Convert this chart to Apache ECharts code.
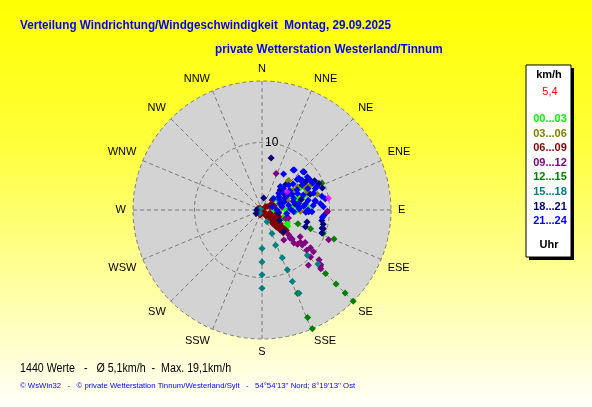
<!DOCTYPE html>
<html>
<head>
<meta charset="utf-8">
<script src="https://cdn.jsdelivr.net/npm/echarts@6/dist/echarts.min.js"></script>
<style>
  html, body { margin: 0; padding: 0; }
  #chart { width: 592px; height: 407px; }
</style>
</head>
<body>
<div id="chart"></div>
<script>
// Himmelsrichtungen (16 Sektoren, 22,5 Grad)
var directions = ['N', 'NNE', 'NE', 'ENE', 'E', 'ESE', 'SE', 'SSE',
                  'S', 'SSW', 'SW', 'WSW', 'W', 'WNW', 'NW', 'NNW'];
var radiusTicks = [10];
var maxSpeed = 19.1;

// Messwerte je Zeitraum: [Geschwindigkeit km/h, Richtung Grad]
var h00_03 = [[3.5, 90], [4.5, 122], [2.7, 56], [3.7, 48], [5.1, 55], [6.5, 60], [5.3, 77], [4.5, 84],
  [6.5, 72], [7.2, 68], [3.4, 107], [1.7, 90], [2.8, 75], [4.9, 93], [4.3, 59], [6.9, 88], [2.3, 48],
  [6.6, 59], [4.4, 122], [4.2, 118], [3.4, 111], [2.4, 45], [5.8, 70], [3.9, 66], [5.6, 84]];
var h03_06 = [[5.8, 42], [6.3, 57], [7.5, 60], [8.0, 63], [4.9, 64], [6.0, 75], [4.0, 70], [3.0, 82],
  [5.5, 58], [7.2, 70], [8.5, 74], [2.5, 95], [7.3, 66], [5.7, 92], [8.8, 63], [5.9, 42], [7.2, 63]];
var h06_09 = [[0.9, 56], [1.3, 112], [1.8, 124], [2.2, 129], [2.8, 128], [3.5, 129], [4.2, 130],
  [3.5, 135], [2.8, 135], [1.6, 141], [0.9, 146], [0.4, 135], [1.7, 59], [1.9, 72], [4.7, 130],
  [4.2, 135], [3.1, 135], [2.3, 139], [1.2, 143], [1.3, 68], [0.7, 45], [2.7, 112], [2.1, 110],
  [0.4, 315], [0.5, 270], [0.5, 130], [1.0, 135], [1.5, 130], [2.0, 135], [2.5, 130], [3.0, 133],
  [4.0, 133], [4.5, 132], [1.2, 120], [2.0, 125], [2.8, 125], [3.4, 127], [1.8, 145], [2.6, 142],
  [3.3, 140], [4.0, 138], [4.6, 137], [0.6, 240], [0.8, 200], [2.1, 45], [1.4, 59], [0.6, 290]];
var h09_12 = [[5.5, 144], [6.2, 134], [7.4, 130], [8.0, 127], [7.3, 134], [7.9, 131], [9.1, 128],
  [9.8, 129], [10.7, 140], [11.9, 133], [12.3, 135], [11.2, 131], [8.9, 132], [5.4, 133], [9.7, 91],
  [10.8, 114], [5.8, 21], [4.1, 107], [5.9, 135], [6.8, 136], [10.0, 134], [12.0, 134], [3.7, 110],
  [6.9, 125], [5.8, 134], [9.6, 92]];
var h12_15 = [[13.3, 135], [15.5, 135], [17.4, 135], [19.1, 135], [5.7, 111], [7.7, 111], [9.7, 111],
  [11.5, 112], [13.4, 157], [17.3, 157], [19.1, 157], [9.7, 66]];
var h15_18 = [[5.7, 180], [7.7, 180], [9.6, 180], [11.6, 180], [3.8, 157], [5.6, 159], [7.7, 157],
  [9.6, 157], [11.5, 157], [13.5, 156], [9.5, 135], [11.5, 134], [1.9, 157], [0.6, 215], [0.3, 300]];
var h18_21 = [[7.8, 10], [8.4, 48], [8.9, 61], [9.3, 65], [9.5, 70], [8.4, 58], [7.7, 57], [1.8, 8],
  [6.9, 92], [9.0, 100], [9.5, 107], [6.9, 111], [4.0, 42], [5.1, 43], [8.0, 81], [9.3, 107],
  [9.5, 111], [4.5, 135], [9.3, 103], [6.0, 75], [5.0, 80], [7.5, 72], [2.5, 100], [3.0, 120],
  [0.8, 270], [1.0, 240], [6.9, 105]];
var h21_24 = [[7.5, 38], [8.3, 47], [6.2, 31], [6.9, 49], [8.3, 57], [8.8, 67], [9.1, 77], [9.1, 87],
  [7.4, 92], [6.2, 85], [4.7, 93], [3.7, 98], [2.2, 90], [1.6, 72], [2.4, 45], [3.5, 45], [4.5, 45],
  [5.4, 47], [4.4, 38], [3.0, 60], [3.5, 70], [4.0, 80], [4.5, 60], [5.0, 70], [5.5, 80], [5.0, 55],
  [6.0, 60], [6.5, 70], [7.0, 78], [6.0, 50], [7.0, 58], [7.5, 65], [8.0, 72], [8.0, 80], [5.5, 88],
  [4.2, 88], [3.0, 80], [2.8, 70], [4.0, 52], [6.5, 82], [7.6, 85], [8.5, 62], [7.2, 52], [5.8, 65],
  [4.8, 75], [3.8, 62], [6.8, 90], [5.0, 62], [3.2, 52], [7.6, 39], [7.2, 49], [8.3, 54], [7.4, 53],
  [8.5, 68], [9.5, 80], [8.7, 84], [9.2, 95], [9.0, 97], [6.5, 93], [5.4, 85]];
var latest = [[10.0, 80], [4.6, 54]];

var periods = ['00...03', '03...06', '06...09', '09...12', '12...15', '15...18', '18...21', '21...24'];
var periodColors = ['#00FF00', '#808000', '#800000', '#800080', '#008000', '#008080', '#000080', '#0000FF'];
var periodData = [h00_03, h03_06, h06_09, h09_12, h12_15, h15_18, h18_21, h21_24];

var polarCenter = [262, 210];
var polarRadius = 129;

var chart = echarts.init(document.getElementById('chart'));

var series = periodData.map(function (d, i) {
  return {
    name: periods[i],
    type: 'scatter',
    coordinateSystem: 'polar',
    symbol: 'diamond',
    symbolSize: 7,
    itemStyle: { color: periodColors[i], opacity: 1 },
    data: d
  };
});
series.push({
  name: 'aktuell',
  type: 'scatter',
  coordinateSystem: 'polar',
  symbol: 'diamond',
  symbolSize: 7,
  itemStyle: { color: '#FF00FF' },
  data: latest
});

// grauer Kreis als Hintergrund der Windrose
var disc = [
  { type: 'circle', z: -10, silent: true, shape: { cx: polarCenter[0], cy: polarCenter[1], r: polarRadius },
    style: { fill: '#D3D3D3' } }
];

// Legende rechts (Kasten mit Schatten)
var legendItems = [
  { type: 'rect', shape: { x: 529, y: 68, width: 45, height: 192 }, style: { fill: '#000' } },
  { type: 'rect', shape: { x: 526, y: 65, width: 45, height: 192 }, style: { fill: '#fff', stroke: '#000', lineWidth: 1 } },
  { type: 'text', x: 549, y: 75, style: { text: 'km/h', fill: '#000', font: 'bold 11px Arial', align: 'center', verticalAlign: 'middle' } },
  { type: 'text', x: 550, y: 92, style: { text: '5,4', fill: '#FF0000', font: '11px Arial', align: 'center', verticalAlign: 'middle' } },
  { type: 'text', x: 549, y: 245, style: { text: 'Uhr', fill: '#000', font: 'bold 11px Arial', align: 'center', verticalAlign: 'middle' } }
];
periods.forEach(function (p, i) {
  legendItems.push({ type: 'text', x: 550, y: 119 + i * 14.6,
    style: { text: p, fill: periodColors[i], font: 'bold 11px Arial', align: 'center', verticalAlign: 'middle' } });
});

var texts = [
  { type: 'text', x: 20, y: 25, scaleX: 0.9, style: { text: 'Verteilung Windrichtung/Windgeschwindigkeit  Montag, 29.09.2025',
      fill: '#0000FF', font: 'bold 13px Arial', verticalAlign: 'middle' } },
  { type: 'text', x: 215, y: 49, scaleX: 0.9, style: { text: 'private Wetterstation Westerland/Tinnum',
      fill: '#0000FF', font: 'bold 13px Arial', verticalAlign: 'middle' } },
  { type: 'text', x: 20, y: 369, scaleX: 0.89, style: { text: '1440 Werte   -   \u00D8 5,1km/h  -  Max. 19,1km/h',
      fill: '#000', font: '12px Arial', verticalAlign: 'middle' } },
  { type: 'text', x: 20, y: 386, scaleX: 0.97, style: { text: '\u00A9 WsWin32   -   \u00A9 private Wetterstation Tinnum/Westerland/Sylt   -   54\u00B054\'13\'\' Nord; 8\u00B019\'13\'\' Ost',
      fill: '#0000FF', font: '8px Arial', verticalAlign: 'middle' } }
];

var option = {
  animation: false,
  backgroundColor: {
    type: 'linear', x: 0, y: 0, x2: 0, y2: 1,
    colorStops: [{ offset: 0, color: '#FFFF00' }, { offset: 0.35, color: '#FFFF3A' }, { offset: 1, color: '#FFFFFA' }]
  },
  polar: { center: polarCenter, radius: polarRadius },
  angleAxis: {
    type: 'value', min: 0, max: 360, interval: 22.5, startAngle: 90, clockwise: true,
    axisLine: { show: false }, axisTick: { show: false },
    axisLabel: {
      margin: 7, color: '#000', fontSize: 11, fontFamily: 'Arial',
      formatter: function (v) { return directions[Math.round(v / 22.5) % 16]; }
    },
    splitLine: { show: true, lineStyle: { color: '#7A7A7A', width: 1, type: [4, 3] } }
  },
  radiusAxis: {
    type: 'value', min: 0, max: maxSpeed, interval: 10,
    axisLine: { show: false }, axisTick: { show: false },
    axisLabel: {
      color: '#000', fontSize: 12, fontFamily: 'Arial', margin: -3, align: 'left', verticalAlign: 'middle',
      formatter: function (v) { return radiusTicks.indexOf(v) >= 0 ? String(v) : ''; }
    },
    splitLine: { show: true, showMinLine: false, showMaxLine: false, lineStyle: { color: '#7A7A7A', width: 1, type: [4, 3] } },
    splitArea: { show: false }
  },
  series: series,
  graphic: disc.concat(legendItems, texts)
};
chart.setOption(option);
</script>
</body>
</html>
